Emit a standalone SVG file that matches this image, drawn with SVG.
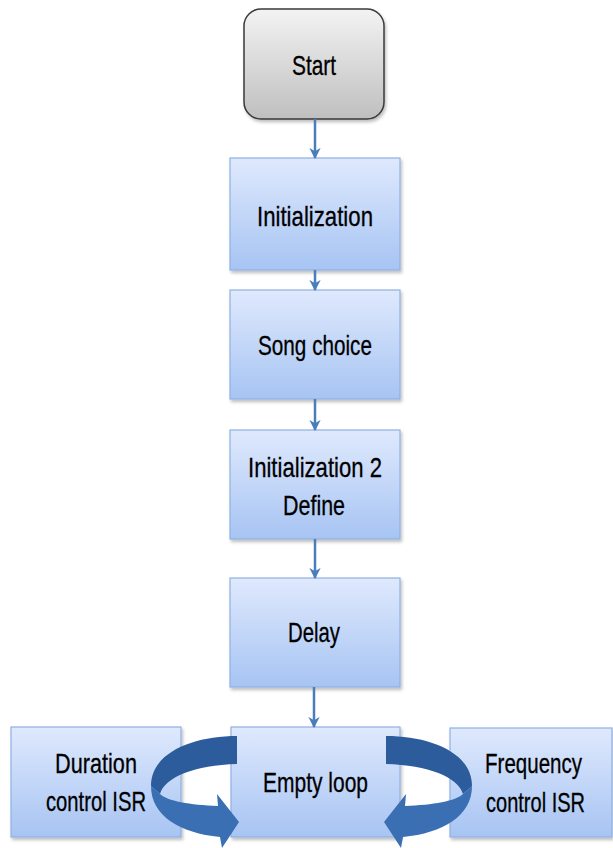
<svg xmlns="http://www.w3.org/2000/svg" width="613" height="848" viewBox="0 0 613 848">
<defs>
<linearGradient id="blue" x1="0" y1="0" x2="0" y2="1">
<stop offset="0" stop-color="#dfe9fd"/>
<stop offset="1" stop-color="#a7c4f3"/>
</linearGradient>
<linearGradient id="gray" x1="0" y1="0" x2="0" y2="1">
<stop offset="0" stop-color="#f3f3f3"/>
<stop offset="1" stop-color="#bfbfbf"/>
</linearGradient>
<filter id="sh" x="-10%" y="-10%" width="130%" height="130%">
<feDropShadow dx="1.5" dy="2.5" stdDeviation="1.5" flood-color="#000" flood-opacity="0.25"/>
</filter>
<marker id="ah" viewBox="0 0 10 10" refX="9" refY="5" markerWidth="4.5" markerHeight="4.5" orient="auto" markerUnits="strokeWidth">
<path d="M0,0 L10,5 L0,10 L3,5 Z" fill="#4a7ebb"/>
</marker>
</defs>
<style>
.box{fill:url(#blue);stroke:#8fb1e3;stroke-width:1.2;filter:url(#sh)}
.start{fill:url(#gray);stroke:#3a3a3a;stroke-width:1.5;filter:url(#sh)}
text{font-family:"Liberation Sans",Arial,sans-serif;font-size:28px;fill:#000;stroke:#000;stroke-width:0.3;text-anchor:middle}
.conn{stroke:#4a7ebb;stroke-width:2.5;fill:none;marker-end:url(#ah)}
.back{fill:#2c5c9b}
.front{fill:#3a6fb4}
</style>
<g id="node-start">
<rect class="start" x="244" y="9" width="140" height="110" rx="17"/>
<text x="314" y="75" textLength="44" lengthAdjust="spacingAndGlyphs">Start</text>
</g>
<g id="node-init">
<rect class="box" x="230" y="158" width="170" height="112"/>
<text x="315" y="226" textLength="116" lengthAdjust="spacingAndGlyphs">Initialization</text>
</g>
<g id="node-song">
<rect class="box" x="230" y="290" width="170" height="109"/>
<text x="315" y="355" textLength="114" lengthAdjust="spacingAndGlyphs">Song choice</text>
</g>
<g id="node-init2">
<rect class="box" x="230" y="430" width="170" height="109"/>
<text x="315" y="477" textLength="134" lengthAdjust="spacingAndGlyphs">Initialization 2</text>
<text x="314" y="515" textLength="62" lengthAdjust="spacingAndGlyphs">Define</text>
</g>
<g id="node-delay">
<rect class="box" x="230" y="578" width="170" height="109"/>
<text x="314" y="642" textLength="52" lengthAdjust="spacingAndGlyphs">Delay</text>
</g>
<g id="node-duration">
<rect class="box" x="11" y="727" width="170" height="110"/>
<text x="96" y="773" textLength="82" lengthAdjust="spacingAndGlyphs">Duration</text>
<text x="96" y="811" textLength="100" lengthAdjust="spacingAndGlyphs">control ISR</text>
</g>
<g id="node-empty">
<rect class="box" x="231" y="727" width="169" height="110"/>
<text x="315.5" y="792" textLength="105" lengthAdjust="spacingAndGlyphs">Empty loop</text>
</g>
<g id="node-frequency">
<rect class="box" x="450" y="728" width="162" height="109"/>
<text x="533.5" y="773" textLength="97" lengthAdjust="spacingAndGlyphs">Frequency</text>
<text x="535.5" y="812" textLength="99" lengthAdjust="spacingAndGlyphs">control ISR</text>
</g>
<g id="connectors">
<line class="conn" x1="315" y1="119" x2="315" y2="158"/>
<line class="conn" x1="315" y1="270" x2="315" y2="290"/>
<line class="conn" x1="315" y1="399" x2="315" y2="430"/>
<line class="conn" x1="315" y1="539" x2="315" y2="578"/>
<line class="conn" x1="314" y1="687" x2="314" y2="727"/>
<g id="loop-left">
<path class="back" d="M237,736 C194,736 151,752 151,786 L160,794 C165,777 195,765 237,764 Z"/>
<path class="front" d="M151,786 C151,816 180,833 220,837 L222,848 L239,822 L217,794 L218,806 C190,805 167,801 160,794 Z"/>
</g>
<g id="loop-right" transform="translate(623,0) scale(-1,1)">
<path class="back" d="M237,736 C194,736 151,752 151,786 L160,794 C165,777 195,765 237,764 Z"/>
<path class="front" d="M151,786 C151,816 180,833 220,837 L222,848 L239,822 L217,794 L218,806 C190,805 167,801 160,794 Z"/>
</g>
</g>
</svg>
